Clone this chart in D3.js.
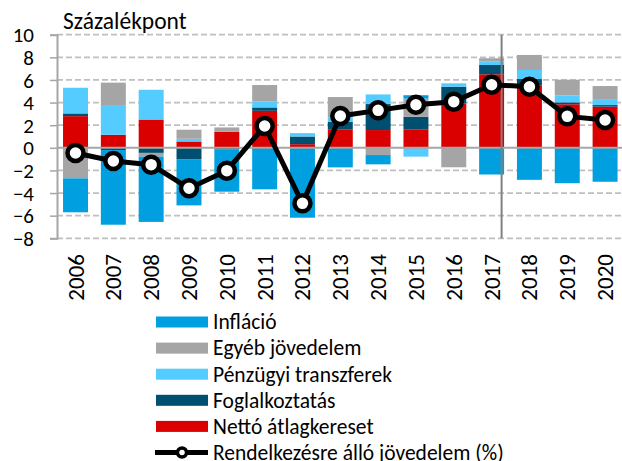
<!DOCTYPE html>
<html>
<head>
<meta charset="utf-8">
<script src="https://cdn.jsdelivr.net/npm/d3@7"></script>
<style>
  body { margin: 0; background: #fff; }
  svg text { font-family: Carlito, Calibri, "Liberation Sans", Arial, sans-serif; fill: #000; }
</style>
</head>
<body>
<div id="chart"></div>
<script>
// years on the x axis
var years = ['2006','2007','2008','2009','2010','2011','2012','2013','2014','2015','2016','2017','2018','2019','2020'];

// contributions, percentage points
var netto     = [2.8, 1.15, 2.5, 0.56, 1.42, 3.27, 0.32, 1.64, 1.57, 1.64, 3.93, 6.5, 5.49, 3.85, 3.64];
var foglal    = [0.24, -0.2, -0.45, -1.0, -0.15, 0.3, 0.68, 0.64, 2.3, 1.11, 1.47, 0.82, 0.59, 0.17, 0.14];
var penzugyi  = [2.27, 2.63, 2.63, 0.24, 0, 0.53, 0.3, 0.42, 0.85, -0.78, 0.3, 0.3, 0.8, 0.6, 0.53];
var egyeb     = [-2.7, 1.98, -0.33, 0.8, 0.38, 1.45, 0, 1.79, -0.64, 1.6, -1.72, 0.3, 1.33, 1.4, 1.15];
var inflacio  = [-3.0, -6.6, -5.77, -4.09, -3.73, -3.67, -6.18, -1.73, -0.82, 0.3, 0, -2.36, -2.83, -3.13, -3.0];
// disposable income growth (%)
var jovedelem = [-0.46, -1.17, -1.49, -3.58, -2.02, 1.93, -4.91, 2.81, 3.31, 3.81, 4.08, 5.58, 5.4, 2.78, 2.46];

var yTicks = [-8, -6, -4, -2, 0, 2, 4, 6, 8, 10];

var series = [
	{key: 'netto',    label: 'Nettó átlagkereset',     color: '#DA0000', values: netto},
	{key: 'foglal',   label: 'Foglalkoztatás',         color: '#004F71', values: foglal},
	{key: 'penzugyi', label: 'Pénzügyi transzferek',   color: '#55CCFF', values: penzugyi},
	{key: 'egyeb',    label: 'Egyéb jövedelem',        color: '#A5A5A5', values: egyeb},
	{key: 'inflacio', label: 'Infláció',               color: '#009FE0', values: inflacio}
];

var width = 622, height = 461;

var svg = d3.select('#chart').append('svg')
	.attr('width', width)
	.attr('height', height);

var x = d3.scaleBand()
	.domain(years)
	.range([56.6, 624])
	.paddingInner(0.34)
	.paddingOuter(0.17);

var y = d3.scaleLinear()
	.domain([-8, 10])
	.range([238.3, 34.7]);

// table for the stack
var table = years.map(function(yr, i) {
	var row = {year: yr};
	series.forEach(function(s) { row[s.key] = s.values[i]; });
	return row;
});

var stack = d3.stack()
	.keys(series.map(function(s) { return s.key; }))
	.offset(d3.stackOffsetDiverging);

var layers = stack(table);

// gridlines
svg.append('g').selectAll('line.grid')
	.data(yTicks.filter(function(t) { return t != 0; }))
	.enter().append('line')
	.attr('class', 'grid')
	.attr('x1', 57).attr('x2', 622)
	.attr('y1', function(d) { return y(d); })
	.attr('y2', function(d) { return y(d); })
	.attr('stroke', '#bfbfbf')
	.attr('stroke-width', 1.7)
	.attr('stroke-dasharray', '6,3');

// bars
svg.append('g').selectAll('g.layer')
	.data(layers)
	.enter().append('g')
	.attr('class', 'layer')
	.attr('fill', function(d, i) { return series[i].color; })
	.selectAll('rect')
	.data(function(d) { return d; })
	.enter().append('rect')
	.attr('x', function(d) { return x(d.data.year); })
	.attr('width', x.bandwidth())
	.attr('y', function(d) { return y(Math.max(d[0], d[1])); })
	.attr('height', function(d) { return Math.abs(y(d[0]) - y(d[1])); });

// zero line
svg.append('line')
	.attr('x1', 57).attr('x2', 622)
	.attr('y1', y(0)).attr('y2', y(0))
	.attr('stroke', '#a6a6a6')
	.attr('stroke-width', 2);

// y axis
var yAxis = svg.append('g')
	.attr('transform', 'translate(57,0)')
	.call(d3.axisLeft(y).tickValues(yTicks).tickSize(7).tickPadding(16));
yAxis.select('.domain').attr('stroke', '#a6a6a6').attr('stroke-width', 2);
yAxis.selectAll('.tick line').attr('stroke', '#a6a6a6').attr('stroke-width', 1.5);
yAxis.selectAll('.tick text')
	.style('font-size', '21px')
	.attr('dy', '0.34em');

// forecast separator
var sepX = x('2017') + x.bandwidth() * 0.9;
svg.append('line')
	.attr('x1', sepX).attr('x2', sepX)
	.attr('y1', y(10)).attr('y2', y(-8))
	.attr('stroke', '#808080')
	.attr('stroke-width', 2);

// x labels, rotated
svg.append('g').selectAll('text.xlab')
	.data(years)
	.enter().append('text')
	.attr('class', 'xlab')
	.attr('transform', function(d) {
		return 'translate(' + (x(d) + x.bandwidth() / 2 + 8) + ',254) rotate(-90)';
	})
	.attr('text-anchor', 'end')
	.style('font-size', '23px')
	.text(function(d) { return d; });

// line with markers
var line = d3.line()
	.x(function(d, i) { return x(years[i]) + x.bandwidth() / 2; })
	.y(function(d) { return y(d); });

svg.append('path')
	.datum(jovedelem)
	.attr('d', line)
	.attr('fill', 'none')
	.attr('stroke', '#000')
	.attr('stroke-width', 5)
	.attr('stroke-linejoin', 'round');

svg.append('g').selectAll('circle')
	.data(jovedelem)
	.enter().append('circle')
	.attr('cx', function(d, i) { return x(years[i]) + x.bandwidth() / 2; })
	.attr('cy', function(d) { return y(d); })
	.attr('r', 8)
	.attr('fill', '#fff')
	.attr('stroke', '#000')
	.attr('stroke-width', 4.5);

// title
svg.append('text')
	.attr('x', 63)
	.attr('y', 29)
	.style('font-size', '23.5px')
	.text('Százalékpont');

// legend
var legendItems = series.slice().reverse();
var legend = svg.append('g');
legendItems.forEach(function(s, i) {
	var cy = 322 + i * 26.1;
	legend.append('rect')
		.attr('x', 156).attr('y', cy - 5.5)
		.attr('width', 52).attr('height', 11)
		.attr('fill', s.color);
	legend.append('text')
		.attr('x', 213).attr('y', cy)
		.attr('dy', '0.34em')
		.style('font-size', '21.5px')
		.text(s.label);
});
var ly = 322 + 5 * 26.1;
legend.append('line')
	.attr('x1', 155).attr('x2', 208)
	.attr('y1', ly).attr('y2', ly)
	.attr('stroke', '#000').attr('stroke-width', 5);
legend.append('circle')
	.attr('cx', 182).attr('cy', ly).attr('r', 4.5)
	.attr('fill', '#fff').attr('stroke', '#000').attr('stroke-width', 3.5);
legend.append('text')
	.attr('x', 213).attr('y', ly)
	.attr('dy', '0.34em')
	.style('font-size', '21.5px')
	.text('Rendelkezésre álló jövedelem (%)');
</script>
</body>
</html>
